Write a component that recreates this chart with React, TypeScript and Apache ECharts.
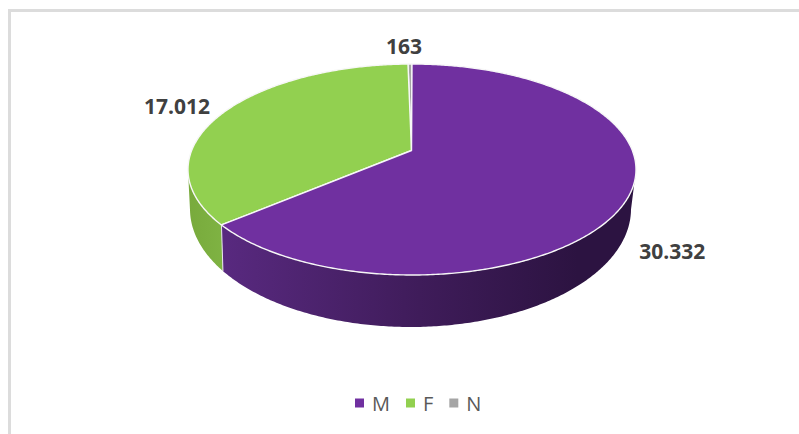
import React, { useEffect, useRef } from "react";
import * as echarts from "echarts";

const categories = ["M", "F", "N"];
const values = [30332, 17012, 163];
const valueLabels = ["30.332", "17.012", "163"];

const topColors = ["#7030A0", "#92D050", "#A5A5A5"];
const wallStops = [
  [{ offset: 0, color: "#58297f" }, { offset: 0.47, color: "#3f1c5a" }, { offset: 0.85, color: "#2c1341" }, { offset: 1, color: "#2c1341" }],
  [{ offset: 0, color: "#78aa3c" }, { offset: 1, color: "#7fb343" }],
  [{ offset: 0, color: "#808080" }, { offset: 1, color: "#808080" }],
];
const wallRange = [[224, 640], [188, 224], [400, 420]];
const labelOffset = [[44, 54], [-48, -5], [-6, -18]];

const TOP = { cx: 412, cy: 169.5, rx: 224, ry: 105.5 };
const LOW = { cx: 410.5, cy: 209, rx: 220.5, ry: 118 };
const P = -0.18; // perspective shift of the pie's centre

function project(e: any, theta: number) {
  const x = Math.sin(theta);
  const y = -Math.cos(theta);
  const d = 1 + P * y;
  const X = (Math.sqrt(1 - P * P) * x) / d;
  const Y = (y + P) / d;
  return { pt: [e.cx + e.rx * X, e.cy + e.ry * Y], Y };
}

const total = values.reduce((a, b) => a + b, 0);

function renderSlice(idx: number) {
  return (_params: any, api: any) => {
    const a0 = (api.value(0) / total) * Math.PI * 2;
    const a1 = (api.value(1) / total) * Math.PI * 2;
    const steps = Math.max(4, Math.ceil((a1 - a0) / 0.01));
    const topArc: number[][] = [];
    const wallTop: number[][] = [];
    const wallLow: number[][] = [];
    for (let i = 0; i <= steps; i++) {
      const t = a0 + ((a1 - a0) * i) / steps;
      const p = project(TOP, t);
      topArc.push(p.pt);
      if (p.Y >= 0) {
        wallTop.push(p.pt);
        wallLow.push(project(LOW, t).pt);
      }
    }
    const apex = [TOP.cx - 0.5, TOP.cy + TOP.ry * P];
    const children: any[] = [];
    if (wallTop.length > 1) {
      const [g0, g1] = wallRange[idx];
      children.push({
        type: "polygon",
        shape: { points: [...wallTop, ...wallLow.slice().reverse()] },
        style: { fill: new echarts.graphic.LinearGradient(g0, 0, g1, 0, wallStops[idx], true), stroke: "none" },
      });
    }
    if (idx === 0) {
      const s = project(TOP, a1).pt;
      const e = project(LOW, a1).pt;
      children.push({
        type: "line",
        shape: { x1: s[0], y1: s[1], x2: e[0], y2: e[1] },
        style: { stroke: "#e9e4ee", lineWidth: 1 },
      });
    }
    children.push({
      type: "polygon",
      shape: { points: [apex, ...topArc] },
      style: { fill: topColors[idx], stroke: "#f7f7f7", lineWidth: 1.4, lineJoin: "round" },
    });
    const mid = project(TOP, (a0 + a1) / 2).pt;
    children.push({
      type: "text",
      x: mid[0] + labelOffset[idx][0],
      y: mid[1] + labelOffset[idx][1],
      style: {
        text: valueLabels[idx],
        fill: "#404040",
        font: "bold 21px 'Open Sans'",
        align: "center",
        verticalAlign: "middle",
      },
    });
    return { type: "group", children };
  };
}

export default function App() {
  const ref = useRef<HTMLDivElement>(null);
  useEffect(() => {
    if (!ref.current) return;
    const chart = echarts.init(ref.current, undefined, { renderer: "svg" });
    let acc = 0;
    const ranges = values.map((v) => {
      const r = [acc, acc + v];
      acc += v;
      return r;
    });
    const order = [2, 1, 0];
    chart.setOption({
      animation: false,
      backgroundColor: "#ffffff",
      legend: {
        data: categories,
        left: 355,
        top: 393,
        icon: "rect",
        itemWidth: 9,
        itemHeight: 9,
        itemGap: 16,
        padding: 0,
        selectedMode: false,
        textStyle: { color: "#595959", fontSize: 20, fontFamily: "'Open Sans'", padding: [0, 0, 0, 3] },
      },
      graphic: [
        { type: "line", silent: true, shape: { x1: 9.5, y1: 10.5, x2: 799, y2: 10.5 }, style: { stroke: "#dcdcdc", lineWidth: 3 } },
        { type: "line", silent: true, shape: { x1: 9.5, y1: 9, x2: 9.5, y2: 434 }, style: { stroke: "#dcdcdc", lineWidth: 3 } },
      ],
      series: order.map((idx) => ({
        type: "custom",
        name: categories[idx],
        coordinateSystem: "none",
        silent: true,
        itemStyle: { color: topColors[idx] },
        data: [ranges[idx]],
        renderItem: renderSlice(idx),
      })),
    });
    return () => chart.dispose();
  }, []);
  return <div ref={ref} style={{ position: "absolute", left: 0, top: 0, width: 799, height: 434 }} />;
}
